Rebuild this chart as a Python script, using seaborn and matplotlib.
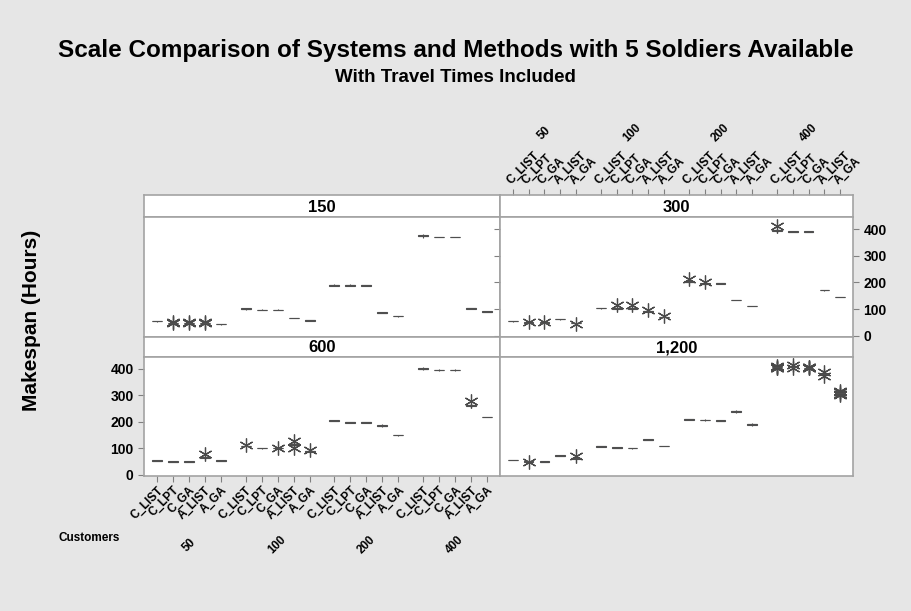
import pandas as pd
import seaborn as sns
import matplotlib.pyplot as plt
from matplotlib.transforms import blended_transform_factory

sns.set_style("white")
plt.rcParams['font.family'] = ['Liberation Sans', 'DejaVu Sans']
plt.rcParams['text.color'] = 'black'
plt.rcParams['axes.labelcolor'] = 'black'

panels = ["150", "300", "600", "1,200"]
customers = ["50", "100", "200", "400"]
methods = ["C_LIST", "C_LPT", "C_GA", "A_LIST", "A_GA"]

# makespan samples per cell: customers 50/100/200/400 x methods C_LIST..A_GA
makespan_150 = [
    [53, 54, 54, 54, 55, 55], [50, 50, 50, 50, 50, 48, 52], [50, 50, 50, 50, 50, 48, 52],
    [50, 50, 50, 50, 50, 48, 52], [42, 43, 43, 43, 44, 44],
    [98, 99, 101, 102, 103, 104], [97, 98, 98, 98, 99, 99], [97, 98, 98, 98, 99, 99],
    [66, 67, 67, 67, 68, 68], [55, 56, 58, 59, 60, 61],
    [186, 188, 189, 191, 192, 195], [186, 188, 190, 191, 192, 194], [186, 188, 189, 189, 190, 192],
    [84, 86, 87, 88, 89, 90], [72, 73, 73, 73, 74, 74],
    [368, 372, 374, 376, 378, 382], [369, 370, 371, 371, 372, 372], [369, 370, 371, 371, 372, 372],
    [101, 102, 103, 104, 105, 105], [90, 91, 91, 91, 92, 92],
]
makespan_300 = [
    [53, 54, 54, 54, 55, 55], [49, 50, 50, 50, 51, 51, 53], [49, 50, 50, 50, 51, 51, 53],
    [61, 62, 62, 62, 63, 63], [48, 48, 48, 48, 49, 49, 46],
    [102, 103, 103, 103, 104, 104], [100, 102, 103, 104, 105, 106, 114], [100, 102, 103, 104, 105, 106, 114],
    [90, 91, 92, 92, 93, 98], [72, 72, 72, 72, 72, 75],
    [198, 200, 202, 203, 204, 205, 214], [194, 195, 196, 196, 197, 197, 201], [194, 195, 196, 197, 198, 199],
    [133, 134, 134, 134, 135, 135], [111, 112, 112, 112, 113, 113],
    [388, 391, 393, 395, 397, 399, 413], [388, 389, 390, 390, 391, 392], [388, 389, 390, 390, 391, 392],
    [169, 170, 170, 170, 171, 171], [144, 145, 145, 145, 146, 146],
]
makespan_600 = [
    [51, 52, 53, 54, 55, 55], [49, 50, 50, 50, 51, 51], [49, 50, 50, 50, 51, 51],
    [63, 65, 66, 67, 69, 70, 79], [51, 52, 53, 54, 55, 55],
    [110, 110, 110, 110, 111, 113], [99, 100, 100, 100, 101, 101], [100, 100, 100, 100, 101, 102],
    [100, 112, 114, 115, 116, 118, 128], [88, 88, 89, 89, 90, 94],
    [202, 203, 204, 205, 206, 206], [196, 197, 198, 199, 200, 200], [196, 197, 198, 199, 200, 200],
    [181, 184, 185, 187, 188, 191], [148, 149, 150, 151, 152, 152],
    [396, 398, 400, 401, 403, 406], [392, 394, 395, 396, 397, 400], [392, 394, 395, 396, 397, 400],
    [259, 261, 263, 264, 266, 279], [217, 218, 218, 218, 219, 219],
]
makespan_1200 = [
    [56, 57, 57, 57, 58, 58], [48, 50, 51, 51, 51, 52], [49, 50, 50, 50, 51, 51],
    [70, 71, 72, 73, 74, 74], [60, 61, 62, 63, 64, 70],
    [105, 106, 107, 108, 109, 109], [102, 103, 103, 103, 104, 104], [99, 100, 101, 102, 103, 103],
    [130, 131, 132, 133, 134, 134], [109, 110, 110, 110, 111, 111],
    [207, 208, 209, 210, 211, 211], [204, 206, 207, 207, 208, 210], [202, 203, 204, 205, 206, 206],
    [232, 237, 239, 240, 242, 246], [186, 189, 190, 192, 193, 195],
    [406, 406, 406, 406, 406, 402, 404, 408, 410],
    [409, 409, 409, 409, 409, 403, 405, 407, 411, 413, 415],
    [405, 405, 405, 405, 405, 402, 404, 407, 408],
    [372, 378, 379, 380, 381, 382, 388],
    [309, 309, 309, 309, 309, 302, 305, 313, 316],
]

group_step = 5.55
rows = []
for panel, cells in zip(panels, [makespan_150, makespan_300, makespan_600, makespan_1200]):
    for i, vals in enumerate(cells):
        ci, mi = divmod(i, 5)
        for v in vals:
            rows.append((panel, customers[ci], methods[mi], ci * group_step + mi, v))
df = pd.DataFrame(rows, columns=["Panel", "Customers", "Method", "pos", "Makespan"])

tick_pos = [ci * group_step + mi for ci in range(4) for mi in range(5)]
tick_lab = [m for _ in customers for m in methods]
group_mid = [ci * group_step + 2 for ci in range(4)]
xlim = (-0.8, 3 * group_step + 4 + 0.8)
ylim = (-4, 445)

W, H = 911, 611
fig = plt.figure(figsize=(9.11, 6.11), dpi=100, facecolor="#e6e6e6")

edge = "#a3a3a3"
col_x = [(144, 356), (500, 353)]
rows_y = [(195, 217, 337), (337, 357, 476)]  # strip top, plot top, plot bottom


def px_axes(x0, w, ytop, ybot):
    return fig.add_axes([x0 / W, 1 - ybot / H, w / W, (ybot - ytop) / H])


axes = {}
strips = {}
for r in range(2):
    for c in range(2):
        name = panels[r * 2 + c]
        x0, w = col_x[c]
        st, pt, pb = rows_y[r]
        sax = px_axes(x0, w, st, pt)
        ax = px_axes(x0, w, pt, pb)
        for a in (sax, ax):
            a.set_facecolor("white")
            for s in a.spines.values():
                s.set_color(edge)
                s.set_linewidth(1.2)
        sax.set_xlim(xlim)
        sax.set_xticks([])
        sax.set_yticks([])
        sax.text(0.5, 0.45, name, transform=sax.transAxes, ha="center", va="center",
                 fontsize=12, fontweight="bold")

        sub = df[df["Panel"] == name]
        sns.boxplot(data=sub, x="pos", y="Makespan", native_scale=True, orient="x",
                    width=0.62, ax=ax, color="#7d90ad", linewidth=0.8,
                    boxprops=dict(facecolor="#7d90ad", edgecolor="#4f4f4f"),
                    whiskerprops=dict(color="#4f4f4f"), capprops=dict(color="#4f4f4f", linewidth=0),
                    medianprops=dict(color="#4f4f4f", linewidth=0.8),
                    flierprops=dict(marker=(6, 2, 0), markersize=10, markeredgecolor="#4a4a4a",
                                    markerfacecolor="none", markeredgewidth=0.9))
        ax.set_xlim(xlim)
        ax.set_ylim(ylim)
        ax.set_xlabel("")
        ax.set_ylabel("")
        ax.set_xticks([])
        ax.set_yticks([])
        axes[name] = ax
        strips[name] = sax

yt = [0, 100, 200, 300, 400]
tick_kw = dict(colors="#808080", length=4, width=0.8, labelcolor="black")

# bottom-left panel: labelled y on the left, labelled methods below
ax = axes["600"]
ax.set_yticks(yt)
ax.set_yticklabels([str(v) for v in yt], fontsize=10, fontweight="bold")
ax.tick_params(axis="y", left=True, right=True, **tick_kw)
ax.set_xticks(tick_pos)
ax.set_xticklabels(tick_lab, rotation=45, ha="right", va="top", rotation_mode="anchor",
                   fontsize=8.5, fontweight="bold")
ax.tick_params(axis="x", bottom=True, pad=2, **tick_kw)
trans = blended_transform_factory(ax.transData, fig.transFigure)
for gx, g in zip(group_mid, customers):
    ax.text(gx, 1 - 545 / H, g, transform=trans, rotation=45, ha="center", va="center",
            fontsize=8.5, fontweight="bold")
fig.text(89 / W, 1 - 538 / H, "Customers", ha="center", va="center", fontsize=8.5, fontweight="bold")

# top-right panel: labelled y on the right, labelled methods above the strip
ax = axes["300"]
ax.set_yticks(yt)
ax.yaxis.tick_right()
ax.set_yticklabels([str(v) for v in yt], fontsize=10, fontweight="bold")
ax.tick_params(axis="y", left=True, right=True, **tick_kw)
sax = strips["300"]
sax.set_xticks(tick_pos)
sax.xaxis.tick_top()
sax.set_xticklabels(tick_lab, rotation=45, ha="left", va="bottom", rotation_mode="anchor",
                    fontsize=8.5, fontweight="bold")
sax.tick_params(axis="x", top=True, bottom=False, pad=2, **tick_kw)
trans = blended_transform_factory(sax.transData, fig.transFigure)
for gx, g in zip(group_mid, customers):
    sax.text(gx, 1 - 133 / H, g, transform=trans, rotation=45, ha="center", va="center",
             fontsize=8.5, fontweight="bold")

fig.text(32 / W, 1 - 320 / H, "Makespan (Hours)", rotation=90, ha="center", va="center",
         fontsize=15, fontweight="bold")
fig.text(0.5, 1 - 50 / H, "Scale Comparison of Systems and Methods with 5 Soldiers Available",
         ha="center", va="center", fontsize=17.5, fontweight="bold")
fig.text(0.5, 1 - 77 / H, "With Travel Times Included", ha="center", va="center",
         fontsize=13.5, fontweight="bold")

fig.savefig("out.png", dpi=100, facecolor=fig.get_facecolor())
